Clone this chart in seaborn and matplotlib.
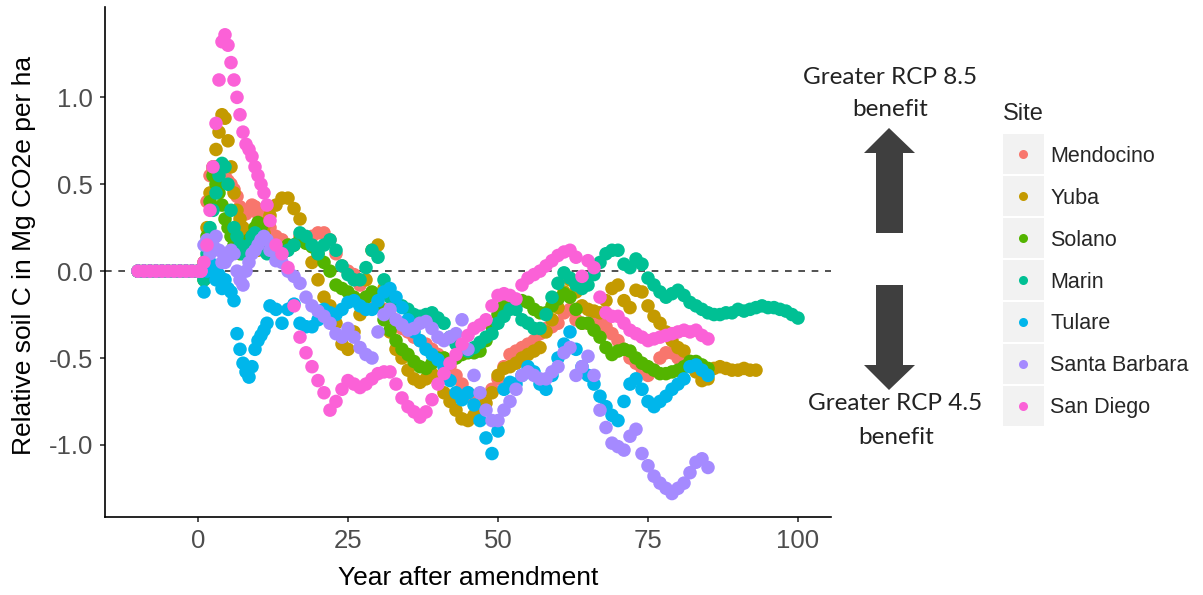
import numpy as np
import pandas as pd
import seaborn as sns
import matplotlib.pyplot as plt
from matplotlib.lines import Line2D
from matplotlib.patches import Polygon, Rectangle
from matplotlib.transforms import IdentityTransform

sites = ["Mendocino", "Yuba", "Solano", "Marin", "Tulare", "Santa Barbara", "San Diego"]
site_colors = ["#F8766D", "#C49A00", "#53B400", "#00C094", "#00B6EB", "#A58AFF", "#FB61D7"]

# years before amendment: all sites sit on 0
years_pre = [-10, -9, -8, -7, -6, -5, -4, -3, -2, -1, 0]
vals_pre = [0.0, 0.0, 0.0, 0.0, 0.0, 0.0, 0.0, 0.0, 0.0, 0.0, 0.0]

# half-year readings for the first 12 years
years_early = [0.5, 1.0, 1.5, 2.0, 2.5, 3.0, 3.5, 4.0, 4.5, 5.0, 5.5, 6.0,
               6.5, 7.0, 7.5, 8.0, 8.5, 9.0, 9.5, 10.0, 10.5, 11.0, 11.5, 12.0]

mendocino_early = [0.0, 0.05, 0.4, 0.55, 0.58, 0.6, 0.6, 0.55, 0.55, 0.52, 0.5, 0.47,
                   0.43, 0.37, 0.34, 0.33, 0.35, 0.38, 0.37, 0.33, 0.32, 0.35, 0.3, 0.25]
yuba_early = [0.0, 0.05, 0.25, 0.45, 0.6, 0.7, 0.8, 0.9, 0.88, 0.75, 0.6, 0.45,
              0.35, 0.3, 0.25, 0.22, 0.2, 0.18, 0.15, 0.12, 0.15, 0.22, 0.28, 0.32]
solano_early = [0.0, -0.05, 0.2, 0.4, 0.55, 0.5, 0.45, 0.38, 0.3, 0.25, 0.2, 0.15,
                0.12, 0.1, 0.12, 0.15, 0.18, 0.2, 0.25, 0.28, 0.25, 0.2, 0.15, 0.12]
marin_early = [0.0, -0.05, 0.1, 0.25, 0.35, 0.45, 0.55, 0.62, 0.6, 0.5, 0.35, 0.25,
               0.2, 0.15, 0.1, 0.12, 0.15, 0.2, 0.22, 0.2, 0.15, 0.12, 0.1, 0.12]
tulare_early = [0.0, -0.12, 0.0, 0.05, 0.0, -0.05, -0.02, -0.1, -0.05, -0.1, -0.12, -0.17,
                -0.36, -0.45, -0.53, -0.58, -0.61, -0.55, -0.45, -0.4, -0.37, -0.34, -0.3, -0.2]
santa_barbara_early = [0.0, 0.15, 0.18, 0.1, 0.15, 0.2, 0.12, 0.05, 0.05, 0.08, 0.12, 0.1,
                       0.0, -0.05, -0.08, 0.0, 0.05, 0.1, 0.12, 0.15, 0.18, 0.2, 0.18, 0.12]
san_diego_early = [0.0, 0.05, 0.15, 0.35, 0.6, 0.85, 1.1, 1.32, 1.36, 1.3, 1.2, 1.1,
                   1.0, 0.9, 0.8, 0.73, 0.7, 0.66, 0.6, 0.55, 0.5, 0.45, 0.38, 0.29]

# yearly readings from year 13 on
mendocino_late = [0.2, 0.18, 0.15, 0.15, 0.2, 0.18, 0.2, 0.22, 0.22, 0.18,
                  0.1, 0.03, 0.0, -0.02, -0.08, -0.15, -0.18, -0.2, -0.22, -0.25,
                  -0.3, -0.33, -0.35, -0.38, -0.4, -0.42, -0.45, -0.48, -0.5, -0.55,
                  -0.6, -0.65, -0.7, -0.74, -0.75, -0.72, -0.68, -0.62, -0.55, -0.48,
                  -0.46, -0.44, -0.42, -0.4, -0.36, -0.33, -0.32, -0.3, -0.24, -0.22,
                  -0.28, -0.3, -0.3, -0.28, -0.28, -0.32, -0.36, -0.4, -0.45, -0.5,
                  -0.53, -0.56, -0.6, -0.57, -0.5, -0.47, -0.47, -0.5, -0.52, -0.53,
                  -0.55, -0.56, -0.57]
yuba_late = [0.38, 0.42, 0.42, 0.36, 0.3, 0.18, 0.05, -0.05, -0.15, -0.2,
             -0.3, -0.42, -0.45, -0.35, -0.25, -0.05, 0.12, 0.15, -0.1, -0.35,
             -0.45, -0.5, -0.57, -0.62, -0.64, -0.62, -0.59, -0.62, -0.7, -0.75,
             -0.8, -0.85, -0.86, -0.83, -0.8, -0.76, -0.7, -0.6, -0.56, -0.55,
             -0.53, -0.5, -0.48, -0.46, -0.44, -0.35, -0.28, -0.21, -0.12, -0.05,
             -0.12, -0.2, -0.22, -0.23, -0.24, -0.17, -0.1, -0.08, -0.17, -0.21,
             -0.11, -0.12, -0.2, -0.26, -0.3, -0.35, -0.4, -0.44, -0.46, -0.52,
             -0.58, -0.63, -0.62, -0.56, -0.55, -0.56, -0.57, -0.57, -0.56, -0.57,
             -0.57]
solano_late = [0.1, 0.12, 0.15, 0.15, 0.18, 0.16, 0.14, 0.1, 0.05, 0.0,
               -0.08, -0.1, -0.12, -0.15, -0.17, -0.15, -0.12, -0.2, -0.28, -0.34,
               -0.4, -0.45, -0.48, -0.52, -0.55, -0.56, -0.53, -0.5, -0.5, -0.52,
               -0.5, -0.48, -0.47, -0.47, -0.46, -0.4, -0.32, -0.25, -0.2, -0.18,
               -0.17, -0.17, -0.18, -0.22, -0.24, -0.24, -0.2, -0.16, -0.13, -0.15,
               -0.22, -0.3, -0.3, -0.34, -0.38, -0.44, -0.48, -0.46, -0.45, -0.46,
               -0.5, -0.53, -0.55, -0.57, -0.59, -0.59, -0.58, -0.57, -0.55, -0.52,
               -0.52, -0.54, -0.56]
marin_late = [0.12, 0.1, 0.12, 0.15, 0.22, 0.2, 0.15, 0.1, 0.15, 0.18,
              0.12, 0.03, -0.02, -0.05, -0.05, 0.02, 0.12, 0.08, -0.05, -0.15,
              -0.18, -0.2, -0.22, -0.25, -0.26, -0.25, -0.24, -0.27, -0.3, -0.38,
              -0.42, -0.45, -0.46, -0.44, -0.41, -0.38, -0.36, -0.3, -0.26, -0.22,
              -0.22, -0.28, -0.3, -0.33, -0.33, -0.25, -0.15, -0.07, -0.01, -0.04,
              -0.08, -0.1, -0.08, -0.02, 0.05, 0.1, 0.12, 0.12, 0.04, 0.02,
              0.07, 0.04, -0.04, -0.08, -0.12, -0.15, -0.13, -0.11, -0.14, -0.18,
              -0.2, -0.22, -0.24, -0.25, -0.25, -0.24, -0.24, -0.22, -0.23, -0.22,
              -0.21, -0.2, -0.21, -0.21, -0.22, -0.23, -0.25, -0.27]
tulare_late = [-0.22, -0.3, -0.22, -0.19, -0.3, -0.32, -0.32, -0.28, -0.22, -0.24,
               -0.25, -0.22, -0.18, -0.17, -0.2, -0.22, -0.22, -0.17, -0.12, -0.1,
               -0.15, -0.21, -0.28, -0.35, -0.4, -0.45, -0.48, -0.51, -0.55, -0.63,
               -0.7, -0.74, -0.7, -0.77, -0.86, -0.96, -1.05, -0.92, -0.68, -0.64,
               -0.65, -0.6, -0.55, -0.58, -0.65, -0.68, -0.6, -0.5, -0.42, -0.35,
               -0.45, -0.55, -0.6, -0.65, -0.72, -0.78, -0.83, -0.86, -0.75, -0.65,
               -0.62, -0.68, -0.75, -0.78, -0.75, -0.72, -0.68, -0.65, -0.62, -0.55,
               -0.54, -0.57, -0.6]
santa_barbara_late = [0.06, 0.05, 0.0, -0.03, -0.07, -0.15, -0.2, -0.23, -0.26, -0.3,
                      -0.36, -0.38, -0.33, -0.38, -0.44, -0.48, -0.5, -0.35, -0.25, -0.22,
                      -0.28, -0.31, -0.34, -0.33, -0.3, -0.29, -0.33, -0.38, -0.4, -0.38,
                      -0.36, -0.28, -0.45, -0.6, -0.7, -0.8, -0.86, -0.86, -0.8, -0.75,
                      -0.68, -0.6, -0.58, -0.6, -0.62, -0.62, -0.58, -0.55, -0.47, -0.44,
                      -0.6, -0.55, -0.49, -0.6, -0.8, -0.9, -0.99, -1.01, -1.03, -0.95,
                      -0.91, -1.05, -1.12, -1.18, -1.22, -1.25, -1.28, -1.25, -1.22, -1.16,
                      -1.1, -1.08, -1.13]
san_diego_late = [0.15, 0.1, 0.02, -0.2, -0.38, -0.47, -0.55, -0.63, -0.7, -0.8,
                  -0.75, -0.68, -0.63, -0.65, -0.67, -0.65, -0.62, -0.59, -0.58, -0.58,
                  -0.65, -0.73, -0.78, -0.81, -0.84, -0.81, -0.74, -0.65, -0.59, -0.53,
                  -0.48, -0.42, -0.37, -0.33, -0.31, -0.28, -0.2, -0.14, -0.13, -0.14,
                  -0.16, -0.08, -0.04, -0.02, 0.0, 0.03, 0.06, 0.09, 0.11, 0.12,
                  0.08, -0.03, 0.06, 0.02, -0.15, -0.24, -0.26, -0.26, -0.3, -0.34,
                  -0.36, -0.38, -0.4, -0.39, -0.38, -0.37, -0.36, -0.35, -0.34, -0.35,
                  -0.34, -0.37, -0.39]

early_lists = [mendocino_early, yuba_early, solano_early, marin_early,
               tulare_early, santa_barbara_early, san_diego_early]
late_lists = [mendocino_late, yuba_late, solano_late, marin_late,
              tulare_late, santa_barbara_late, san_diego_late]

rows = []
for site, early, late in zip(sites, early_lists, late_lists):
    yrs = years_pre + years_early + list(range(13, 13 + len(late)))
    vals = vals_pre + early + late
    for x, y in zip(yrs, vals):
        rows.append((site, x, y))
df = pd.DataFrame(rows, columns=["Site", "year", "value"])

sns.set_style("ticks")
plt.rcParams["font.family"] = ["Liberation Sans", "DejaVu Sans"]

W, H = 1203, 595
fig = plt.figure(figsize=(W / 100, H / 100), dpi=100)
ax = fig.add_axes([105 / W, 1 - 517 / H, 726 / W, 510 / H])

ax.axhline(0, color="#333333", lw=1.2, ls=(0, (4, 4)), zorder=1)
sns.scatterplot(data=df, x="year", y="value", hue="Site", hue_order=sites,
                palette=dict(zip(sites, site_colors)), s=95, linewidth=0,
                legend=False, ax=ax, zorder=2)

ax.set_xlim(-15.5, 105.5)
ax.set_ylim(-1.415, 1.52)
ax.set_xticks([0, 25, 50, 75, 100])
ax.set_yticks([-1.0, -0.5, 0.0, 0.5, 1.0])
ax.set_yticklabels(["-1.0", "-0.5", "0.0", "0.5", "1.0"])
sns.despine(ax=ax)
for sp in ["left", "bottom"]:
    ax.spines[sp].set_color("black")
    ax.spines[sp].set_linewidth(1.2)
ax.tick_params(length=3.6, width=1.2, color="#333333", labelsize=18.5,
               labelcolor="#4D4D4D", pad=5)

ax.set_xlabel("Year after amendment", fontsize=19, color="black")
ax.set_ylabel("Relative soil C in Mg CO2e per ha", fontsize=19, color="black")
ax.xaxis.set_label_coords(0.5, -0.119)
ax.xaxis.label.set_va("center")
ax.yaxis.set_label_coords(-0.111, 0.512)
ax.yaxis.label.set_va("center")
ax.yaxis.label.set_ha("center")

# legend in ggplot style
handles = [Line2D([], [], ls="none", marker="o", markersize=6.5,
                  markerfacecolor=c, markeredgewidth=0) for c in site_colors]
leg = ax.legend(handles, sites, loc="upper left",
                bbox_to_anchor=(1003 / W, 1 - 103 / H), bbox_transform=fig.transFigure,
                frameon=False, fontsize=15.5, title="Site", title_fontsize=17,
                labelspacing=0.97, handlelength=1.9, handletextpad=0.3,
                borderpad=0, borderaxespad=0)
leg._legend_box.align = "left"

fig.canvas.draw()
renderer = fig.canvas.get_renderer()
for h in leg.legend_handles:
    bb = h.get_window_extent(renderer)
    cx, cy = (bb.x0 + bb.x1) / 2, (bb.y0 + bb.y1) / 2
    fig.add_artist(Rectangle((cx - 20.5, cy - 20), 41, 40, transform=IdentityTransform(),
                             facecolor="#F2F2F2", edgecolor="none", zorder=-1))

# arrows and notes
def px(points):
    return [(x / W, 1 - y / H) for x, y in points]

arrow_color = "#3F3F3F"
up = [(889, 128), (915, 153), (903, 153), (903, 233), (876, 233), (876, 153), (864, 153)]
down = [(876, 285), (903, 285), (903, 365), (915, 365), (889, 390), (864, 365), (876, 365)]
for pts in (up, down):
    fig.add_artist(Polygon(px(pts), closed=True, facecolor=arrow_color,
                           edgecolor="none", transform=fig.transFigure))

note_font = ["Lato", "DejaVu Sans"]
for txt, x, y in [("Greater RCP 8.5", 890, 77), ("benefit", 890, 110),
                  ("Greater RCP 4.5", 895, 403), ("benefit", 896, 437)]:
    fig.text(x / W, 1 - y / H, txt, ha="center", va="center", fontsize=17.5,
             family=note_font, color="#222222")

fig.savefig("out.png", dpi=100)
